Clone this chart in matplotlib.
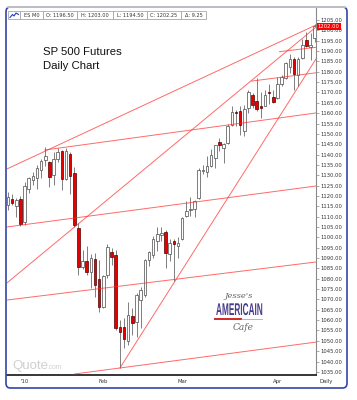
import matplotlib
matplotlib.use('Agg')
import matplotlib.pyplot as plt
from matplotlib.patches import FancyBboxPatch, Rectangle, PathPatch
from matplotlib.textpath import TextPath
from matplotlib.font_manager import FontProperties
from matplotlib.transforms import Affine2D
from matplotlib.lines import Line2D
import numpy as np

# ES M0 daily bars, 28 Dec 2009 .. 14 Apr 2010
opens = [1115.5, 1118.5, 1115, 1118.5,
         1107.5, 1123.5, 1127.5, 1128.5, 1132.5, 1137.5, 1136.5, 1130, 1138, 1141.5,
         1128, 1140.5, 1131, 1104.5, 1085.5, 1088.5, 1083.5, 1089.5, 1080,
         1066.5, 1082, 1093, 1091.5, 1056.5, 1056.5, 1050, 1062, 1059, 1069.5,
         1072, 1089, 1091.5, 1098, 1101, 1102.5, 1092, 1098, 1096,
         1099, 1110.5, 1113, 1113.5, 1119, 1132, 1131.5, 1134.5, 1138.5, 1146,
         1143, 1145.5, 1154.5, 1160.5, 1161, 1151.5, 1162.5, 1169, 1166, 1163.5,
         1163.5, 1170, 1168,
         1167.5, 1174, 1177, 1182.5, 1186, 1178.5, 1186.5, 1195.5, 1192, 1196.5]
highs = [1122, 1121, 1119, 1120,
         1126.5, 1129, 1131.5, 1135, 1138, 1143.5, 1136.8, 1141, 1143, 1142,
         1143, 1141, 1134, 1107, 1094, 1096, 1092, 1092.5, 1089,
         1082, 1097, 1095, 1094, 1060, 1061, 1069, 1066, 1073, 1076,
         1089.5, 1093.5, 1100.5, 1105, 1105, 1103.5, 1099, 1099, 1100,
         1110, 1117.5, 1119.5, 1118, 1133.5, 1135, 1139.5, 1142.5, 1144.5, 1148,
         1145.5, 1155, 1163.5, 1161.5, 1163.5, 1164, 1171, 1169.5, 1177, 1170,
         1171, 1174, 1171,
         1177.5, 1178.5, 1184.5, 1188.5, 1187, 1187, 1196, 1199, 1198.5, 1203]
lows = [1113, 1115.5, 1110, 1105.5,
        1106, 1121.5, 1125.5, 1123.5, 1128.5, 1134.5, 1124.3, 1125.5, 1136.5, 1123,
        1127.5, 1121, 1105, 1081.8, 1084.5, 1082, 1075.5, 1071, 1064,
        1066, 1080.5, 1086.5, 1055, 1037, 1046.5, 1048, 1053, 1052, 1056,
        1071, 1086, 1090, 1093.5, 1098, 1085, 1088.5, 1079, 1090,
        1098.5, 1110, 1110.5, 1110, 1118.5, 1130.5, 1129, 1134, 1133.5, 1141.5,
        1136, 1145, 1154, 1154, 1149.5, 1149, 1160, 1162.5, 1161, 1157.5,
        1163.5, 1164.5, 1165,
        1167, 1173, 1176.5, 1179.5, 1171, 1173, 1186, 1192, 1185.5, 1194.5]
closes = [1119.5, 1116.5, 1118, 1106.5,
          1125, 1128.5, 1129.5, 1133.5, 1137, 1139.5, 1129, 1138, 1141, 1128,
          1141.5, 1129.5, 1106, 1085.5, 1088.5, 1083.5, 1090, 1077, 1066.5,
          1081.5, 1095.5, 1090.5, 1056, 1054.5, 1051, 1062.5, 1058.5, 1072, 1074.5,
          1089, 1093, 1099, 1101.5, 1102, 1092.5, 1097.5, 1097, 1097.5,
          1109.5, 1112.5, 1113.5, 1117.5, 1132.5, 1132.5, 1134.5, 1140, 1144.5, 1144.5,
          1145, 1154, 1160.5, 1160, 1154.5, 1162, 1170, 1164, 1162, 1162.5,
          1169, 1169.5, 1165.5,
          1174, 1177.5, 1184, 1186, 1179, 1186, 1193, 1192.5, 1193, 1202.25]

month_pos = [4, 23, 42, 65]
month_lbl = ["'10", 'Feb', 'Mar', 'Apr']
price_ticks = list(range(1035, 1210, 5))

# trend lines: (bar index, price) start -> end
tl_x0 = [16.1, -0.3, -0.3, 8.9, -0.3, 27.0, -0.3, 65.5, 58.8]
tl_y0 = [1034.0, 1105.0, 1069.7, 1142.2, 1133.0, 1036.9, 1077.9, 1189.7, 1175.5]
tl_x1 = [74.3, 74.3, 74.3, 74.3, 74.3, 74.3, 74.3, 74.3, 74.3]
tl_y1 = [1049.4, 1124.8, 1088.1, 1160.1, 1202.6, 1186.2, 1201.6, 1191.8, 1179.5]

header = ['ES M0', 'O: 1196.50', 'H: 1203.00', 'L: 1194.50', 'C: 1202.25', '\u0394: 9.25']

W, H = 357, 400
fig = plt.figure(figsize=(W/100, H/100), dpi=100)
fig.patch.set_facecolor('white')

def fx(px): return px / W
def fy(py): return 1 - py / H

ax = fig.add_axes([fx(7), fy(375), fx(316) - fx(7), fy(8) - fy(375)])
ax.set_xlim(-0.24, 74.3)
ax.set_ylim(1033.5, 1210.8)

idx = np.arange(len(opens))
o = np.array(opens); c = np.array(closes)
ax.vlines(idx, lows, highs, color='#6a6a6a', lw=0.6, zorder=2)
up = c >= o
body = np.maximum(np.abs(c - o), 0.45)
bot = np.minimum(o, c)
ax.bar(idx[up], body[up], bottom=bot[up], width=0.62, color='white',
       edgecolor='#4a4a4a', lw=0.5, zorder=3)
ax.bar(idx[~up], body[~up], bottom=bot[~up], width=0.62, color='#e60000',
       edgecolor='#500000', lw=0.5, zorder=3)

for a, b, cc, d in zip(tl_x0, tl_y0, tl_x1, tl_y1):
    ax.plot([a, cc], [b, d], color='#ff2a2a', lw=0.7, alpha=0.7, zorder=4)

for s in ['left', 'top']:
    ax.spines[s].set_visible(False)
ax.spines['right'].set_color('#8a8a8a')
ax.spines['right'].set_linewidth(0.8)
ax.spines['bottom'].set_color('black')
ax.spines['bottom'].set_linewidth(1.1)

ax.yaxis.tick_right()
ax.set_yticks(price_ticks)
ax.set_yticklabels(['%.2f' % v for v in price_ticks])
ax.tick_params(axis='y', length=2, width=0.5, color='#8a8a8a', labelsize=3.8,
               pad=1.5, labelcolor='#333333')
ax.set_xticks(month_pos)
ax.set_xticklabels(month_lbl)
ax.tick_params(axis='x', length=0, labelsize=3.8, pad=3, labelcolor='#333333')

# current price flag
ax.text(1.006, 1202, '1202.00', transform=ax.get_yaxis_transform(), ha='left',
        va='center', fontsize=3.8, color='white', zorder=6, clip_on=False,
        bbox=dict(boxstyle='square,pad=0.2', fc='#ff0000', ec='none'))

fig.text(fx(326.5), fy(381), 'Daily', fontsize=3.8, color='#333333',
         ha='center', va='center')

# titles
fig.text(fx(43), fy(52), 'SP 500 Futures', fontsize=8.2, family='Liberation Sans',
         color='#111111', va='center')
fig.text(fx(43), fy(66), 'Daily Chart', fontsize=8.2, family='Liberation Sans',
         color='#111111', va='center')

# watermark
fig.text(fx(12), fy(369), 'Quote', fontsize=9.5, family='Liberation Sans',
         color='#cfcfcf', va='baseline')
fig.text(fx(47.5), fy(369), '.com', fontsize=4.8, family='Liberation Sans',
         color='#cfcfcf', va='baseline')

# header strip
edges = [8, 20, 43, 77, 113, 147, 181, 206]
fig.add_artist(Rectangle((fx(9), fy(20.3)), fx(206) - fx(8), fy(11) - fy(19.3),
                         transform=fig.transFigure, fc='#dddddd', ec='none'))
for i in range(len(edges) - 1):
    fig.add_artist(Rectangle((fx(edges[i]), fy(19.3)), fx(edges[i+1]) - fx(edges[i]),
                             fy(11) - fy(19.3), transform=fig.transFigure,
                             fc='white', ec='#9a9a9a', lw=0.5))
    if i > 0:
        fig.text(fx((edges[i] + edges[i+1]) / 2), fy(15.3), header[i-1], fontsize=3.6,
                 color='#333333', ha='center', va='center')
fig.add_artist(Line2D([fx(10), fx(12.5), fx(14), fx(16), fx(18.5)],
                      [fy(17.5), fy(14.5), fy(16), fy(13), fy(14.5)],
                      transform=fig.transFigure, color='#1f3fc0', lw=0.8))

# logo
fp = FontProperties(family='Liberation Sans', weight='bold')
tp = TextPath((0, 0), 'AMERICAIN', size=17, prop=fp)
tw = tp.get_extents().width
tr = Affine2D().scale(46 / tw / W, 1 / H).translate(fx(216), fy(315)) + fig.transFigure
fig.add_artist(PathPatch(tp, transform=tr, fc='#4a3c8c', ec='none'))
fig.text(fx(239), fy(296), "Jesse's", fontsize=6, family='DejaVu Serif',
         style='italic', color='#666666', ha='center', va='center')
fig.text(fx(243), fy(327), 'Cafe', fontsize=6.5, family='DejaVu Serif',
         style='italic', color='#666666', ha='center', va='center')
fig.add_artist(Line2D([fx(215), fx(241)], [fy(319), fy(319)],
                      transform=fig.transFigure, color='#d02828', lw=1.4))
fig.add_artist(Line2D([fx(241), fx(262)], [fy(319), fy(319)],
                      transform=fig.transFigure, color='#999999', lw=0.5))

# outer rounded frame
fig.add_artist(FancyBboxPatch((fx(6), fy(388)), fx(347) - fx(6), fy(7) - fy(388),
                              boxstyle='round,pad=0,rounding_size=0.012',
                              transform=fig.transFigure, fill=False,
                              ec='#3545a5', lw=1.2))
fig.add_artist(Line2D([fx(8), fx(345)], [fy(7), fy(7)], transform=fig.transFigure,
                      color='#c8c8c8', lw=1.3))

fig.savefig('out.png', dpi=100)
